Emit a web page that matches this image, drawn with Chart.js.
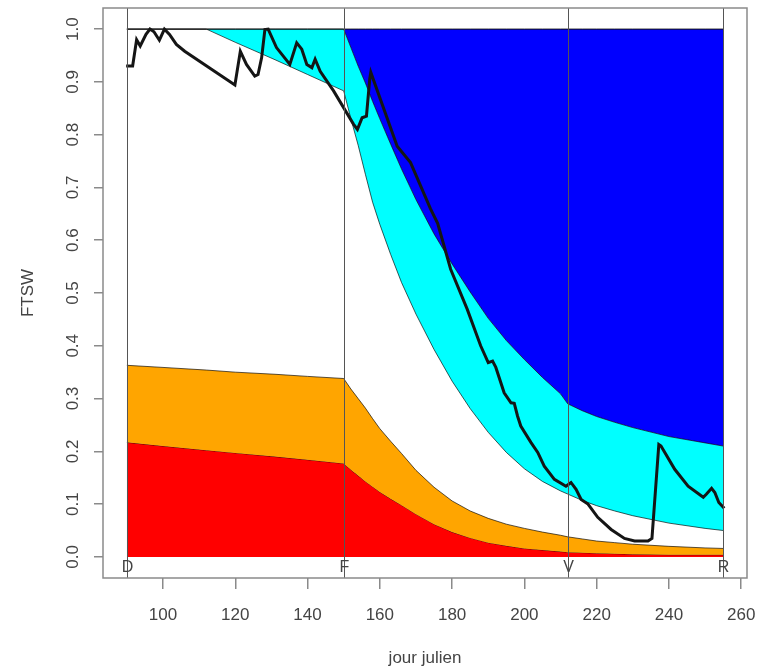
<!DOCTYPE html>
<html>
<head>
<meta charset="utf-8">
<script src="https://cdn.jsdelivr.net/npm/chart.js@4"></script>
<style>
  body { margin: 0; background: #fff; }
  #wrap { width: 764px; height: 669px; }
</style>
</head>
<body>
<div id="wrap"><canvas id="chart" width="764" height="669"></canvas></div>
<script>
// stage days (D = debourrement, F = floraison, V = veraison, R = recolte)
const stageDays = [90, 150, 212, 255]
const stageLabels = ['D', 'F', 'V', 'R']

const xTicks = [100, 120, 140, 160, 180, 200, 220, 240, 260]
const yTicks = [0, 0.1, 0.2, 0.3, 0.4, 0.5, 0.6, 0.7, 0.8, 0.9, 1.0]

// days where the stress bands are read
const bandDays = [90, 100, 112, 120, 131, 140, 150, 152, 154, 156, 158, 160, 163, 166, 170, 175, 180, 185, 190, 195, 200, 205, 210, 212, 216, 220, 225, 230, 240, 250, 255]
const topLimit = [1, 1, 1, 1, 1, 1, 1, 1, 1, 1, 1, 1, 1, 1, 1, 1, 1, 1, 1, 1, 1, 1, 1, 1, 1, 1, 1, 1, 1, 1, 1]
const blueLimit = [1, 1, 1, 1, 1, 1, 1, 0.965, 0.93, 0.898, 0.863, 0.83, 0.782, 0.735, 0.677, 0.612, 0.555, 0.502, 0.452, 0.41, 0.374, 0.34, 0.309, 0.29, 0.277, 0.266, 0.255, 0.245, 0.228, 0.216, 0.21]
const cyanLimit = [1, 1, 1, 0.975, 0.942, 0.914, 0.883, 0.83, 0.78, 0.725, 0.672, 0.63, 0.573, 0.52, 0.46, 0.393, 0.333, 0.281, 0.236, 0.198, 0.167, 0.143, 0.125, 0.119, 0.107, 0.097, 0.087, 0.078, 0.064, 0.054, 0.05]
const orangeLimit = [0.363, 0.359, 0.354, 0.35, 0.346, 0.342, 0.338, 0.318, 0.3, 0.282, 0.262, 0.243, 0.219, 0.196, 0.164, 0.132, 0.106, 0.087, 0.073, 0.062, 0.054, 0.047, 0.041, 0.038, 0.034, 0.03, 0.027, 0.024, 0.02, 0.017, 0.016]
const redLimit = [0.217, 0.21, 0.202, 0.197, 0.19, 0.184, 0.177, 0.165, 0.154, 0.143, 0.133, 0.123, 0.11, 0.098, 0.081, 0.062, 0.047, 0.036, 0.027, 0.021, 0.016, 0.013, 0.01, 0.009, 0.008, 0.007, 0.006, 0.005, 0.004, 0.004, 0.004]

// simulated FTSW
const ftswDays = [89.8, 91.6, 92.7, 93.7, 95.3, 96.4, 97.5, 99.0, 100.4, 101.8, 103.7, 106, 119.9, 121.4, 123.1, 125.4, 126.3, 127.3, 128.2, 129.1, 131.4, 135.1, 137.0, 138.4, 139.8, 141.2, 142.1, 143.5, 147.2, 152.7, 153.8, 155.1, 156.3, 157.2, 157.5, 164.8, 168.5, 174, 176.0, 179.6, 184.2, 187.9, 190, 191.2, 192.1, 194.4, 196.3, 197.2, 198.1, 199.0, 201.8, 203.7, 205.5, 208.3, 211.5, 212.9, 214.3, 215.7, 217.6, 220.3, 224, 227.7, 230.5, 234.2, 235.3, 237.2, 237.8, 241.6, 245.3, 249.5, 250.4, 251.8, 252.7, 253.8, 255.3]
const ftswValues = [0.93, 0.93, 0.98, 0.968, 0.99, 1.0, 0.995, 0.979, 1.0, 0.99, 0.971, 0.958, 0.894, 0.958, 0.933, 0.911, 0.914, 0.946, 0.999, 1.0, 0.965, 0.933, 0.974, 0.962, 0.933, 0.927, 0.943, 0.92, 0.883, 0.82, 0.81, 0.832, 0.835, 0.905, 0.918, 0.778, 0.747, 0.66, 0.632, 0.545, 0.469, 0.4, 0.368, 0.371, 0.359, 0.311, 0.292, 0.291, 0.267, 0.248, 0.217, 0.198, 0.172, 0.147, 0.134, 0.141, 0.128, 0.109, 0.1, 0.075, 0.052, 0.035, 0.03, 0.03, 0.035, 0.213, 0.21, 0.166, 0.134, 0.113, 0.119, 0.13, 0.122, 0.103, 0.092]

function pts(xs, ys) {
    return xs.map((x, i) => ({x: x, y: ys[i]}))
}

function band(values, color, fill) {
    return {
        data: pts(bandDays, values),
        borderColor: 'rgba(0,0,0,0.65)',
        borderWidth: 1,
        backgroundColor: color,
        fill: fill,
        pointRadius: 0,
        tension: 0
    }
}

const textColor = '#444'
const axisColor = '#8a8a8a'

// box + vertical stage lines + stage letters
const stagePlugin = {
    id: 'stages',
    afterDatasetsDraw(chart) {
        const ctx = chart.ctx
        const area = chart.chartArea
        const xs = chart.scales.x
        const ys = chart.scales.y
        ctx.save()
        ctx.strokeStyle = '#555'
        ctx.lineWidth = 1
        stageDays.forEach((d, i) => {
            const px = Math.round(xs.getPixelForValue(d)) + 0.5
            ctx.beginPath()
            ctx.moveTo(px, area.top)
            ctx.lineTo(px, area.bottom)
            ctx.stroke()
            ctx.fillStyle = textColor
            ctx.font = '16px "Liberation Sans", Arial, sans-serif'
            ctx.textAlign = 'center'
            ctx.textBaseline = 'middle'
            ctx.fillText(stageLabels[i], px, ys.getPixelForValue(0) + 11)
        })
        ctx.strokeStyle = axisColor
        ctx.lineWidth = 1.5
        ctx.strokeRect(area.left, area.top, area.right - area.left, area.bottom - area.top)
        ctx.restore()
    }
}

function noEdgePadding(scale) {
    scale.paddingTop = 0
    scale.paddingBottom = 0
    scale.paddingLeft = 0
    scale.paddingRight = 0
}

const font = {family: '"Liberation Sans", Arial, sans-serif', size: 17}

new Chart(document.getElementById('chart'), {
    type: 'line',
    data: {
        datasets: [
            {
                data: pts(ftswDays, ftswValues),
                borderColor: '#151515',
                borderWidth: 3,
                pointRadius: 0,
                fill: false,
                tension: 0
            },
            {
                data: pts(bandDays, topLimit),
                borderColor: '#111',
                borderWidth: 1,
                pointRadius: 0,
                fill: false
            },
            band(blueLimit, '#0000ff', '-1'),
            band(cyanLimit, '#00ffff', '-1'),
            band(orangeLimit, '#ffa500', '+1'),
            band(redLimit, '#ff0000', 'origin')
        ]
    },
    options: {
        responsive: false,
        animation: false,
        layout: {padding: {top: 8, right: 17, left: 0, bottom: 0}},
        plugins: {
            legend: {display: false},
            tooltip: {enabled: false}
        },
        scales: {
            x: {
                type: 'linear',
                min: 83.4,
                max: 261.6,
                afterBuildTicks: (scale) => { scale.ticks = xTicks.map(v => ({value: v})) },
                afterFit: (scale) => { scale.height = 91; noEdgePadding(scale) },
                grid: {drawOnChartArea: false, tickLength: 11, color: axisColor, lineWidth: 1.5},
                border: {display: false},
                ticks: {font: font, color: textColor, padding: 16, maxRotation: 0},
                title: {display: true, text: 'jour julien', font: font, color: textColor, padding: {top: 0, bottom: 0}}
            },
            y: {
                min: -0.04,
                max: 1.04,
                afterBuildTicks: (scale) => { scale.ticks = yTicks.map(v => ({value: v})) },
                afterFit: (scale) => { scale.width = 103; noEdgePadding(scale) },
                grid: {drawOnChartArea: false, tickLength: 9, color: axisColor, lineWidth: 1.5},
                border: {display: false},
                ticks: {
                    font: font,
                    color: textColor,
                    minRotation: 90,
                    maxRotation: 90,
                    crossAlign: 'center',
                    padding: 9,
                    callback: (v) => v.toFixed(1)
                },
                title: {display: true, text: 'FTSW', font: font, color: textColor, padding: {top: 18, bottom: 0}}
            }
        }
    },
    plugins: [stagePlugin]
})
</script>
</body>
</html>
